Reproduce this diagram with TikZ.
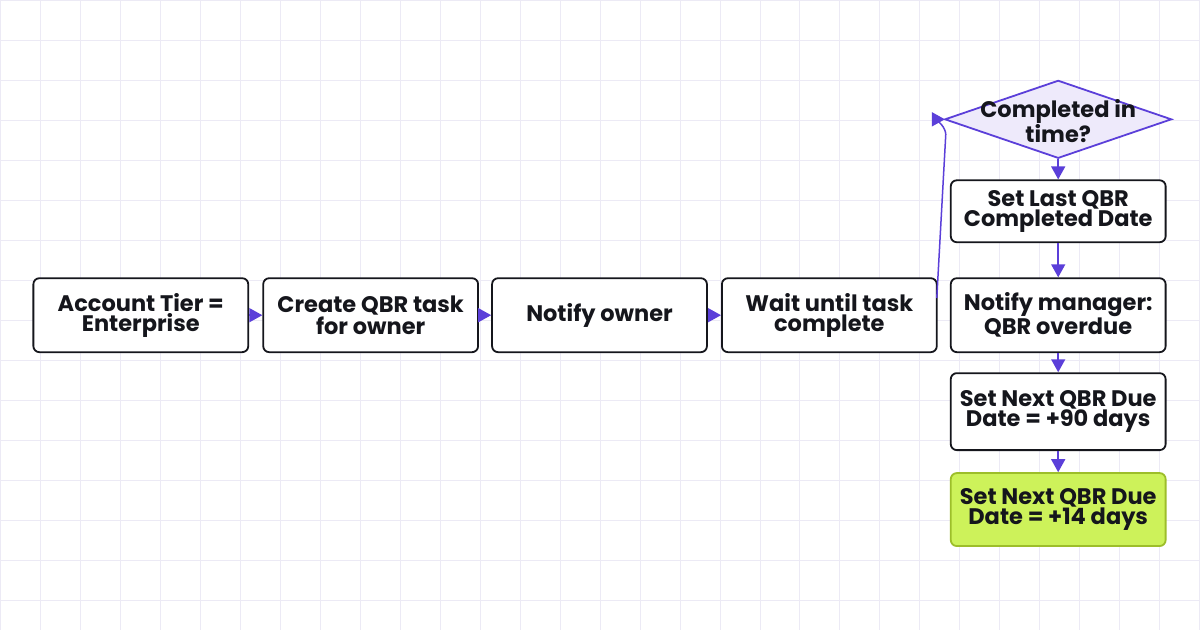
\documentclass[tikz,border=0pt]{standalone}
\usepackage{fontspec}
\setmainfont{Poppins}
\usetikzlibrary{shapes.geometric,arrows.meta}
\definecolor{grid}{HTML}{ECEAF5}
\definecolor{arr}{HTML}{5B3FD9}
\definecolor{dfill}{HTML}{EEEAFB}
\definecolor{gfill}{HTML}{CDF25A}
\definecolor{gline}{HTML}{9DBE2A}
\definecolor{txt}{HTML}{15161C}
\begin{document}
\begin{tikzpicture}[x=1pt,y=-1pt,
 lbl/.style={font=\fontsize{22.5}{20}\selectfont\bfseries,text=txt},
 box/.style={lbl,draw=txt,line width=1.8pt,rounded corners=6pt,fill=white,minimum width=215pt,align=center,inner sep=0pt},
 con/.style={draw=arr,line width=1.5pt,-{Triangle[length=13pt,width=14pt]}}]
\fill[white] (0,0) rectangle (1200,630);
\foreach \i in {0,40,...,1200} \draw[grid,line width=0.8pt] (\i,0)--(\i,630);
\foreach \j in {0,40,...,630} \draw[grid,line width=0.8pt] (0,\j)--(1200,\j);
\node[box,minimum height=74pt] (a) at (140.5,315) {Account Tier =\\Enterprise};
\node[box,minimum height=74pt] (b) at (370.5,315) {Create QBR task\\for owner};
\node[box,minimum height=74pt] (c) at (599.5,315) {Notify owner};
\node[box,minimum height=74pt] (d) at (829.5,315) {Wait until task\\complete};
\node[lbl,diamond,draw=arr,fill=dfill,line width=1.8pt,minimum width=227pt,minimum height=78pt,aspect=2.9,inner sep=0pt,align=center] (q) at (1058.5,119) {};
\node[lbl,align=center] at (1058.5,121) {Completed in\\time?};
\node[box,minimum height=62pt] (e) at (1058.5,211) {Set Last QBR\\Completed Date};
\node[box,minimum height=74pt] (f) at (1058.5,315) {Notify manager:\\QBR overdue};
\node[box,minimum height=77pt] (g) at (1058.5,411.5) {Set Next QBR Due\\Date = +90 days};
\node[box,minimum height=73pt,fill=gfill,draw=gline] (h) at (1058.5,509.5) {Set Next QBR Due\\Date = +14 days};
\draw[con] (a) -- (b);
\draw[con] (b) -- (c);
\draw[con] (c) -- (d);
\coordinate (d0) at (937,298);
\draw[con] (d0) -- (946,134) to[out=92,in=180] ([xshift=1pt]q.west);
\draw[con] (q) -- (e);
\draw[con] (e) -- (f);
\draw[con] (f) -- (g);
\draw[con] (g) -- (h);
\end{tikzpicture}
\end{document}
